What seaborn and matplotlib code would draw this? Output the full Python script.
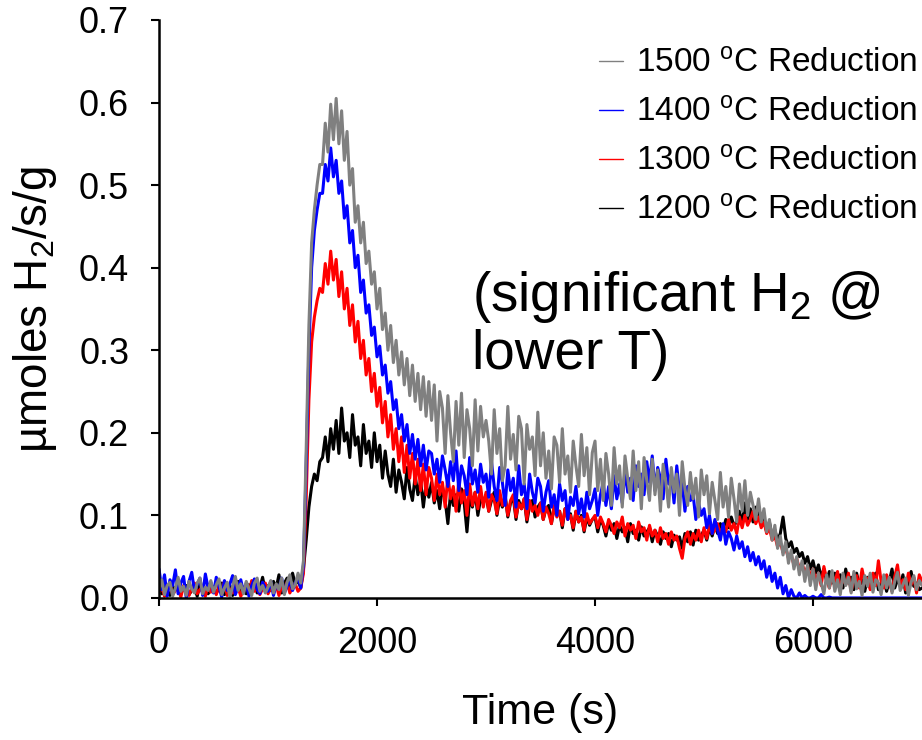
import numpy as np
import pandas as pd
import seaborn as sns
import matplotlib.pyplot as plt

# sample times (s), one reading every 25 s
time_s = np.arange(0, 7001, 25)

# H2 production rate (umol/s/g), 20 readings per row
h2_1500 = [
    0.010, 0.022, 0.004, 0.015, 0.019, 0.002, 0.012, 0.025, 0.008, 0.014, 0.003, 0.020, 0.011, 0.006, 0.018, 0.024, 0.005, 0.013, 0.009, 0.021,
    0.007, 0.016, 0.023, 0.004, 0.012, 0.019, 0.001, 0.014, 0.026, 0.009, 0.017, 0.005, 0.020, 0.011, 0.003, 0.018, 0.024, 0.008, 0.015, 0.006,
    0.013, 0.021, 0.006, 0.017, 0.010, 0.024, 0.004, 0.019, 0.028, 0.011, 0.016, 0.030, 0.018, 0.045, 0.180, 0.330, 0.430, 0.470, 0.500, 0.525,
    0.525, 0.575, 0.540, 0.598, 0.555, 0.605, 0.550, 0.590, 0.530, 0.565, 0.500, 0.520, 0.455, 0.475, 0.430, 0.455, 0.405, 0.420, 0.380, 0.395,
    0.350, 0.375, 0.325, 0.345, 0.300, 0.330, 0.285, 0.312, 0.270, 0.298, 0.258, 0.290, 0.245, 0.282, 0.238, 0.272, 0.228, 0.268, 0.220, 0.262,
    0.215, 0.258, 0.190, 0.250, 0.230, 0.175, 0.245, 0.200, 0.165, 0.238, 0.185, 0.248, 0.170, 0.228, 0.205, 0.160, 0.240, 0.178, 0.232, 0.195,
    0.215, 0.190, 0.150, 0.228, 0.175, 0.205, 0.142, 0.160, 0.232, 0.168, 0.198, 0.155, 0.220, 0.205, 0.138, 0.210, 0.180, 0.195, 0.148, 0.225,
    0.160, 0.200, 0.145, 0.178, 0.132, 0.195, 0.185, 0.140, 0.205, 0.150, 0.172, 0.128, 0.190, 0.160, 0.135, 0.198, 0.148, 0.182, 0.125, 0.176,
    0.190, 0.130, 0.168, 0.118, 0.175, 0.150, 0.112, 0.182, 0.138, 0.160, 0.110, 0.172, 0.145, 0.120, 0.178, 0.130, 0.165, 0.108, 0.170, 0.142,
    0.118, 0.168, 0.125, 0.155, 0.105, 0.162, 0.140, 0.110, 0.158, 0.128, 0.150, 0.100, 0.165, 0.132, 0.112, 0.152, 0.120, 0.145, 0.098, 0.155,
    0.125, 0.148, 0.102, 0.140, 0.118, 0.095, 0.152, 0.110, 0.135, 0.098, 0.145, 0.120, 0.092, 0.138, 0.105, 0.142, 0.100, 0.128, 0.112, 0.095,
    0.120, 0.092, 0.108, 0.080, 0.095, 0.070, 0.088, 0.060, 0.075, 0.052, 0.068, 0.042, 0.058, 0.035, 0.050, 0.028, 0.045, 0.020, 0.040, 0.015,
    0.035, 0.010, 0.030, 0.018, 0.005, 0.028, 0.012, 0.033, 0.008, 0.022, 0.004, 0.030, 0.015, 0.025, 0.006, 0.032, 0.011, 0.020, 0.003, 0.027,
    0.014, 0.030, 0.007, 0.022, 0.018, 0.004, 0.028, 0.012, 0.025, 0.006, 0.020, 0.031, 0.009, 0.016, 0.024, 0.003, 0.019, 0.027, 0.010, 0.021,
    0.015,
]
h2_1400 = [
    0.035, 0.010, 0.028, 0.002, 0.022, 0.015, 0.034, 0.005, 0.018, 0.026, 0.000, 0.020, 0.031, 0.008, 0.016, 0.024, 0.003, 0.029, 0.012, 0.019,
    0.006, 0.025, 0.014, 0.001, 0.021, 0.009, 0.017, 0.027, 0.004, 0.013, 0.022, 0.007, 0.018, 0.002, 0.015, 0.023, 0.010, 0.005, 0.019, 0.012,
    0.008, 0.020, 0.003, 0.016, 0.011, 0.024, 0.006, 0.014, 0.022, 0.009, 0.018, 0.026, 0.012, 0.040, 0.160, 0.300, 0.400, 0.445, 0.470, 0.490,
    0.490, 0.525, 0.505, 0.545, 0.510, 0.530, 0.490, 0.505, 0.460, 0.475, 0.430, 0.445, 0.400, 0.415, 0.370, 0.385, 0.345, 0.355, 0.318, 0.328,
    0.292, 0.305, 0.270, 0.282, 0.248, 0.262, 0.228, 0.240, 0.205, 0.222, 0.190, 0.210, 0.175, 0.198, 0.168, 0.192, 0.160, 0.185, 0.155, 0.178,
    0.175, 0.150, 0.168, 0.140, 0.172, 0.155, 0.135, 0.165, 0.142, 0.178, 0.130, 0.160, 0.148, 0.125, 0.170, 0.138, 0.155, 0.128, 0.162, 0.140,
    0.150, 0.122, 0.165, 0.135, 0.118, 0.158, 0.140, 0.112, 0.155, 0.130, 0.145, 0.110, 0.160, 0.125, 0.138, 0.108, 0.150, 0.128, 0.115, 0.145,
    0.135, 0.105, 0.128, 0.142, 0.110, 0.125, 0.100, 0.138, 0.118, 0.130, 0.095, 0.122, 0.112, 0.135, 0.102, 0.120, 0.098, 0.128, 0.108, 0.118,
    0.132, 0.100, 0.125, 0.140, 0.112, 0.135, 0.108, 0.148, 0.120, 0.138, 0.115, 0.155, 0.128, 0.145, 0.118, 0.160, 0.135, 0.150, 0.125, 0.165,
    0.140, 0.172, 0.130, 0.158, 0.145, 0.120, 0.168, 0.138, 0.150, 0.115, 0.160, 0.128, 0.140, 0.105, 0.135, 0.118, 0.125, 0.095, 0.115, 0.100,
    0.108, 0.085, 0.100, 0.078, 0.095, 0.082, 0.070, 0.090, 0.065, 0.080, 0.072, 0.058, 0.075, 0.060, 0.068, 0.050, 0.062, 0.045, 0.055, 0.040,
    0.050, 0.035, 0.045, 0.025, 0.038, 0.020, 0.030, 0.012, 0.025, 0.005, 0.015, 0.000, 0.010, 0.002, 0.000, 0.006, 0.000, 0.003, 0.000, 0.000,
    0.002, 0.000, 0.000, 0.004, 0.000, 0.000, 0.001, 0.000, 0.000, 0.000, 0.000, 0.000, 0.000, 0.000, 0.000, 0.000, 0.000, 0.000, 0.000, 0.000,
    0.000, 0.000, 0.000, 0.000, 0.000, 0.000, 0.000, 0.000, 0.000, 0.000, 0.000, 0.000, 0.000, 0.000, 0.000, 0.000, 0.000, 0.000, 0.000, 0.000,
    0.000,
]
h2_1300 = [
    0.006, 0.014, 0.002, 0.011, 0.017, 0.004, 0.009, 0.013, 0.001, 0.015, 0.008, 0.003, 0.012, 0.018, 0.005, 0.010, 0.014, 0.002, 0.016, 0.007,
    0.012, 0.004, 0.015, 0.009, 0.020, 0.003, 0.011, 0.006, 0.017, 0.013, 0.002, 0.010, 0.016, 0.005, 0.021, 0.008, 0.013, 0.004, 0.011, 0.018,
    0.005, 0.012, 0.008, 0.016, 0.003, 0.014, 0.010, 0.019, 0.006, 0.013, 0.017, 0.008, 0.012, 0.030, 0.120, 0.240, 0.310, 0.340, 0.360, 0.375,
    0.370, 0.405, 0.380, 0.420, 0.385, 0.410, 0.365, 0.395, 0.350, 0.375, 0.330, 0.355, 0.310, 0.335, 0.290, 0.312, 0.270, 0.290, 0.250, 0.272,
    0.232, 0.255, 0.212, 0.238, 0.195, 0.222, 0.180, 0.205, 0.165, 0.195, 0.152, 0.185, 0.145, 0.175, 0.138, 0.168, 0.130, 0.162, 0.125, 0.158,
    0.145, 0.118, 0.150, 0.125, 0.140, 0.110, 0.148, 0.120, 0.135, 0.105, 0.142, 0.115, 0.130, 0.100, 0.138, 0.112, 0.128, 0.108, 0.135, 0.110,
    0.128, 0.105, 0.125, 0.118, 0.102, 0.130, 0.112, 0.122, 0.100, 0.118, 0.125, 0.098, 0.115, 0.108, 0.120, 0.095, 0.118, 0.105, 0.112, 0.100,
    0.115, 0.095, 0.110, 0.102, 0.090, 0.112, 0.098, 0.105, 0.088, 0.108, 0.095, 0.100, 0.085, 0.105, 0.092, 0.098, 0.082, 0.102, 0.090, 0.095,
    0.100, 0.085, 0.098, 0.090, 0.080, 0.095, 0.088, 0.078, 0.092, 0.085, 0.098, 0.075, 0.090, 0.082, 0.088, 0.072, 0.092, 0.080, 0.085, 0.070,
    0.088, 0.075, 0.082, 0.068, 0.085, 0.072, 0.078, 0.065, 0.080, 0.070, 0.075, 0.060, 0.048, 0.072, 0.080, 0.065, 0.078, 0.070, 0.082, 0.068,
    0.085, 0.072, 0.088, 0.078, 0.082, 0.090, 0.075, 0.088, 0.080, 0.095, 0.082, 0.090, 0.078, 0.098, 0.085, 0.100, 0.088, 0.095, 0.105, 0.090,
    0.098, 0.085, 0.092, 0.078, 0.085, 0.070, 0.075, 0.062, 0.068, 0.055, 0.060, 0.048, 0.052, 0.040, 0.048, 0.035, 0.042, 0.030, 0.038, 0.025,
    0.035, 0.020, 0.030, 0.015, 0.038, 0.022, 0.012, 0.028, 0.018, 0.032, 0.010, 0.025, 0.016, 0.030, 0.008, 0.022, 0.027, 0.012, 0.035, 0.018,
    0.024, 0.010, 0.030, 0.015, 0.045, 0.020, 0.012, 0.028, 0.018, 0.008, 0.026, 0.040, 0.014, 0.022, 0.010, 0.030, 0.016, 0.025, 0.006, 0.028,
    0.020,
]
h2_1200 = [
    0.012, 0.005, 0.016, 0.008, 0.003, 0.014, 0.010, 0.019, 0.006, 0.011, 0.015, 0.004, 0.009, 0.013, 0.002, 0.017, 0.007, 0.012, 0.005, 0.010,
    0.014, 0.006, 0.011, 0.018, 0.004, 0.009, 0.015, 0.003, 0.012, 0.020, 0.007, 0.013, 0.005, 0.016, 0.010, 0.022, 0.006, 0.012, 0.025, 0.008,
    0.015, 0.009, 0.020, 0.012, 0.028, 0.006, 0.018, 0.024, 0.010, 0.030, 0.016, 0.022, 0.012, 0.035, 0.070, 0.110, 0.135, 0.150, 0.142, 0.165,
    0.170, 0.195, 0.165, 0.205, 0.180, 0.215, 0.175, 0.230, 0.190, 0.200, 0.170, 0.222, 0.185, 0.195, 0.160, 0.210, 0.175, 0.190, 0.158, 0.200,
    0.165, 0.185, 0.145, 0.178, 0.150, 0.135, 0.168, 0.128, 0.155, 0.140, 0.120, 0.158, 0.132, 0.118, 0.148, 0.125, 0.142, 0.110, 0.138, 0.122,
    0.140, 0.115, 0.130, 0.108, 0.135, 0.118, 0.090, 0.128, 0.112, 0.125, 0.105, 0.132, 0.115, 0.080, 0.122, 0.110, 0.128, 0.100, 0.120, 0.115,
    0.125, 0.105, 0.118, 0.128, 0.100, 0.120, 0.110, 0.125, 0.098, 0.115, 0.122, 0.095, 0.118, 0.108, 0.120, 0.092, 0.112, 0.118, 0.098, 0.110,
    0.115, 0.095, 0.108, 0.112, 0.090, 0.110, 0.100, 0.105, 0.085, 0.108, 0.098, 0.102, 0.082, 0.105, 0.092, 0.100, 0.080, 0.098, 0.088, 0.095,
    0.098, 0.080, 0.095, 0.088, 0.075, 0.092, 0.082, 0.090, 0.072, 0.088, 0.080, 0.085, 0.068, 0.090, 0.078, 0.082, 0.070, 0.086, 0.075, 0.080,
    0.085, 0.068, 0.082, 0.075, 0.065, 0.080, 0.072, 0.078, 0.062, 0.076, 0.070, 0.074, 0.060, 0.078, 0.068, 0.080, 0.064, 0.082, 0.070, 0.076,
    0.082, 0.070, 0.085, 0.075, 0.088, 0.078, 0.090, 0.082, 0.095, 0.085, 0.098, 0.088, 0.092, 0.105, 0.090, 0.115, 0.095, 0.108, 0.092, 0.110,
    0.100, 0.088, 0.095, 0.080, 0.092, 0.075, 0.082, 0.070, 0.078, 0.098, 0.072, 0.062, 0.068, 0.055, 0.060, 0.050, 0.055, 0.042, 0.050, 0.035,
    0.045, 0.030, 0.040, 0.025, 0.035, 0.020, 0.032, 0.018, 0.030, 0.015, 0.028, 0.012, 0.035, 0.018, 0.025, 0.010, 0.030, 0.015, 0.022, 0.008,
    0.025, 0.012, 0.020, 0.030, 0.010, 0.018, 0.024, 0.008, 0.020, 0.035, 0.012, 0.022, 0.015, 0.028, 0.006, 0.020, 0.032, 0.014, 0.018, 0.010,
    0.012,
]

labels = ["1500 $^{o}$C Reduction", "1400 $^{o}$C Reduction",
          "1300 $^{o}$C Reduction", "1200 $^{o}$C Reduction"]
series = [h2_1500, h2_1400, h2_1300, h2_1200]
colors = ["#808080", "#0000ff", "#ff0000", "#000000"]

sns.set_theme(style="ticks")
plt.rcParams['font.family'] = ['Liberation Sans', 'DejaVu Sans']
plt.rcParams['mathtext.fontset'] = 'custom'
plt.rcParams['mathtext.rm'] = 'Liberation Sans'
plt.rcParams['mathtext.it'] = 'Liberation Sans:italic'
plt.rcParams['mathtext.default'] = 'regular'
for key in ['text.color', 'axes.labelcolor', 'xtick.color', 'ytick.color',
            'axes.edgecolor']:
    plt.rcParams[key] = 'black'

fig = plt.figure(figsize=(9.22, 7.40), dpi=100)
ax = fig.add_axes([0.1725, 0.192, 0.8275, 0.781])

# draw the coolest run first so the 1500 C trace sits on top
for lab, vals, col in list(zip(labels, series, colors))[::-1]:
    df = pd.DataFrame({"time": time_s, "h2": vals})
    sns.lineplot(data=df, x="time", y="h2", color=col, label=lab,
                 linewidth=2.2, estimator=None, sort=False, ax=ax)

ax.set_xlim(0, 7000)
ax.set_ylim(0, 0.7)
ax.set_xticks([0, 2000, 4000, 6000])
ax.set_yticks(np.arange(0, 0.71, 0.1))
ax.set_yticklabels(["%.1f" % v for v in np.arange(0, 0.71, 0.1)])
ax.tick_params(axis="both", direction="out", length=5.5, width=1.5,
               labelsize=26)
ax.tick_params(axis="x", pad=15)
ax.tick_params(axis="y", pad=16)
for side in ["left", "bottom"]:
    ax.spines[side].set_linewidth(1.8)
for side in ["top", "right"]:
    ax.spines[side].set_visible(False)

ax.set_xlabel("Time (s)", fontsize=31, labelpad=23)
ax.set_ylabel("µmoles H$_2$/s/g", fontsize=33, labelpad=14)

handles, labs = ax.get_legend_handles_labels()
leg = ax.legend(handles[::-1], labs[::-1], loc="upper right",
                bbox_to_anchor=(1.031, 1.0), frameon=False, fontsize=24,
                handlelength=0.7, handletextpad=0.4, labelspacing=0.54,
                borderaxespad=0.45)
for ln in leg.get_lines():
    ln.set_linewidth(1.0)

ax.text(2870, 0.398, "(significant H$_2$ @\nlower T)", fontsize=39.5,
        ha="left", va="top", linespacing=1.1)

fig.savefig("out.png", dpi=100)
